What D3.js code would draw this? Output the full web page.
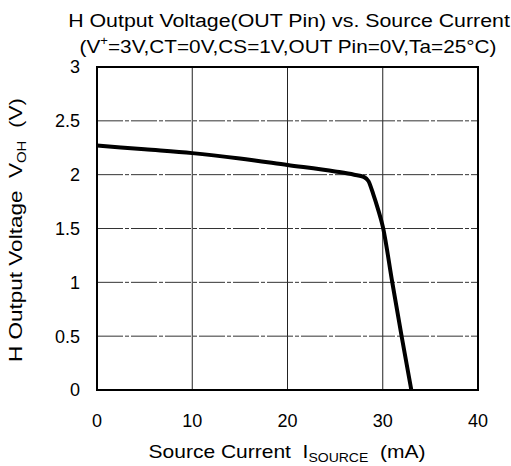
<!DOCTYPE html>
<html>
<head>
<meta charset="utf-8">
<script src="https://cdn.jsdelivr.net/npm/d3@7"></script>
<style>
  body { margin: 0; background: #fff; }
  text { font-family: "Liberation Sans", Arial, sans-serif; fill: #000; white-space: pre; }
</style>
</head>
<body>
<div id="chart"></div>
<script>
// data
const currentMA = [0, 5, 10, 15, 20, 25, 27, 28, 28.5, 29, 29.5, 30, 31, 32, 33];
const voltageV = [2.27, 2.235, 2.20, 2.15, 2.09, 2.03, 2.00, 1.98, 1.94, 1.82, 1.68, 1.52, 1.0, 0.49, 0];
const xTicks = [0, 10, 20, 30, 40];
const yTicks = [0, 0.5, 1, 1.5, 2, 2.5, 3];

const width = 511, height = 466;
const margin = { top: 67, right: 33, bottom: 76, left: 97 };
const w = width - margin.left - margin.right;
const h = height - margin.top - margin.bottom;

const svg = d3.select('#chart').append('svg')
  .attr('width', width)
  .attr('height', height);

const g = svg.append('g')
  .attr('transform', `translate(${margin.left},${margin.top})`);

const x = d3.scaleLinear().domain([0, 40]).range([0, w]);
const y = d3.scaleLinear().domain([0, 3]).range([h, 0]);

// widen a centred label (the scan uses a broad gothic face) to the given width
function fitWidth(sel, target, base) {
  const len = sel.node().getComputedTextLength();
  sel.attr('transform', `${base} scale(${(target / len).toFixed(3)},1)`);
}

// grid
g.selectAll('.vgrid')
  .data(xTicks.slice(1, -1))
  .enter().append('line')
  .attr('x1', d => x(d)).attr('x2', d => x(d))
  .attr('y1', 0).attr('y2', h)
  .attr('stroke', '#222')
  .attr('stroke-width', 1);

g.selectAll('.hgrid')
  .data(yTicks.slice(1, -1))
  .enter().append('line')
  .attr('x1', 0).attr('x2', w)
  .attr('y1', d => y(d)).attr('y2', d => y(d))
  .attr('stroke', '#333')
  .attr('stroke-width', 1)
  .attr('stroke-dasharray', '26,2,4,2');

// frame
g.append('rect')
  .attr('x', 0).attr('y', 0)
  .attr('width', w).attr('height', h)
  .attr('fill', 'none')
  .attr('stroke', '#000')
  .attr('stroke-width', 2);

// tick labels
g.selectAll('.xt')
  .data(xTicks)
  .enter().append('text')
  .attr('x', d => x(d))
  .attr('y', h + 37)
  .attr('text-anchor', 'middle')
  .attr('font-size', '18px')
  .text(d => d);

g.selectAll('.yt')
  .data(yTicks)
  .enter().append('text')
  .attr('x', -17)
  .attr('y', d => y(d))
  .attr('dy', '0.36em')
  .attr('text-anchor', 'end')
  .attr('font-size', '18px')
  .text(d => d);

// curve
const line = d3.line()
  .x((d, i) => x(currentMA[i]))
  .y(d => y(d))
  .curve(d3.curveMonotoneX);

g.append('path')
  .datum(voltageV)
  .attr('d', line)
  .attr('fill', 'none')
  .attr('stroke', '#000')
  .attr('stroke-width', 4)
  .attr('stroke-linejoin', 'round');

// title
const t1 = svg.append('text')
  .attr('text-anchor', 'middle')
  .attr('font-size', '19px')
  .text('H Output Voltage(OUT Pin) vs. Source Current');
fitWidth(t1, 442, 'translate(289,27)');

const sub = svg.append('text')
  .attr('text-anchor', 'middle')
  .attr('font-size', '19px');
sub.append('tspan').text('(V');
sub.append('tspan').attr('font-size', '12px').attr('dy', -8).text('+');
sub.append('tspan').attr('dy', 8).text('=3V,CT=0V,CS=1V,OUT Pin=0V,Ta=25°C)');
fitWidth(sub, 417, 'translate(288,53)');

// x axis label
const xl = svg.append('text')
  .attr('text-anchor', 'middle')
  .attr('font-size', '18px');
xl.append('tspan').text('Source Current  I');
xl.append('tspan').attr('font-size', '12px').attr('dy', 4).text('SOURCE');
xl.append('tspan').attr('dy', -4).text('  (mA)');
fitWidth(xl, 277, 'translate(287,458)');

// y axis label
const yl = svg.append('text')
  .attr('text-anchor', 'middle')
  .attr('font-size', '18px');
yl.append('tspan').text('H Output Voltage  V');
yl.append('tspan').attr('font-size', '12px').attr('dy', 4).text('OH');
yl.append('tspan').attr('dy', -4).text('  (V)');
fitWidth(yl, 264, 'translate(22,230) rotate(-90)');
</script>
</body>
</html>
